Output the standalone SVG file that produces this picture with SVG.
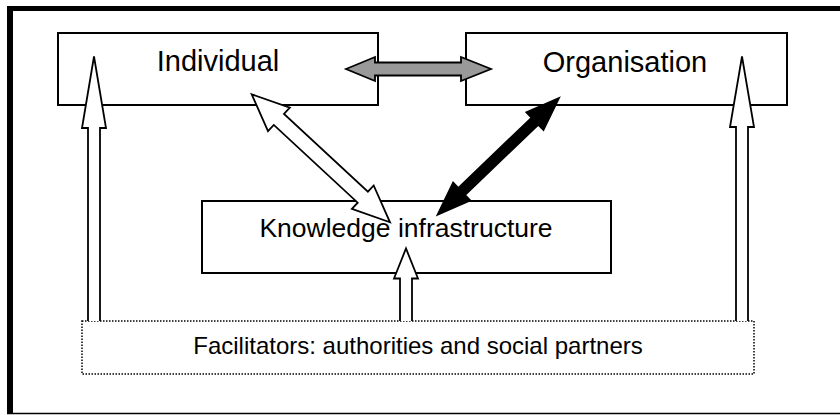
<svg xmlns="http://www.w3.org/2000/svg" width="840" height="415" viewBox="0 0 840 415">
<style>
.box{fill:#fff;stroke:#000;stroke-width:2}
.dot{fill:#fff;stroke:#000;stroke-width:1.5;stroke-dasharray:1.5 1.5}
.lbl{font-family:"Liberation Sans",Arial,sans-serif;fill:#000;text-anchor:middle}
.wa{fill:#fff;stroke:#000;stroke-width:1.8;stroke-linejoin:miter}
.ga{fill:#999;stroke:#000;stroke-width:1.8}
.ba{fill:#000;stroke:#000;stroke-width:1.5}
</style>
<rect x="0" y="0" width="840" height="415" fill="#fff"/>
<g id="frame">
<rect x="7" y="6" width="833" height="5" fill="#000"/>
<rect x="7" y="6" width="6" height="408" fill="#000"/>
<line x1="7" y1="413.5" x2="840" y2="413.5" stroke="#000" stroke-width="1.5"/>
</g>
<g id="individual">
<rect class="box" x="58" y="33" width="320" height="72"/>
<text class="lbl" x="218" y="71" font-size="29">Individual</text>
</g>
<g id="organisation">
<rect class="box" x="466" y="33" width="321" height="72"/>
<text class="lbl" x="625" y="71.5" font-size="29">Organisation</text>
</g>
<g id="knowledge">
<rect class="box" x="202" y="201" width="409" height="72"/>
<text class="lbl" x="406" y="237" font-size="26.5">Knowledge infrastructure</text>
</g>
<g id="facilitators">
<rect class="dot" x="82" y="321" width="672" height="53"/>
<text class="lbl" x="418" y="354" font-size="24">Facilitators: authorities and social partners</text>
</g>
<g id="connectors">
<polygon class="ga" points="346,69 375,57 375,62.5 461,62.5 461,57 491,69 461,81 461,75.5 375,75.5 375,81"/>
<polygon class="wa" points="251.7,94.3 289.8,107.7 284,113.9 367.9,191.7 373.7,185.5 390,222.3 351.9,208.9 357.7,202.7 273.8,124.9 268,131.1"/>
<polygon class="ba" points="559.3,97.7 543.5,130.3 538.3,124.9 465.3,195 470.5,200.4 437.3,215 453.1,182.4 458.3,187.8 531.3,117.7 526.1,112.3"/>
<path class="wa" d="M88,321 V128 H82 L94,56.5 L106,128 H100 V321"/>
<path class="wa" d="M736,321 V127 H730 L742,56.5 L754,127 H748 V321"/>
<path class="wa" d="M400,321 V278.5 H394 L406,248.5 L418,278.5 H412 V321"/>
</g>
</svg>
